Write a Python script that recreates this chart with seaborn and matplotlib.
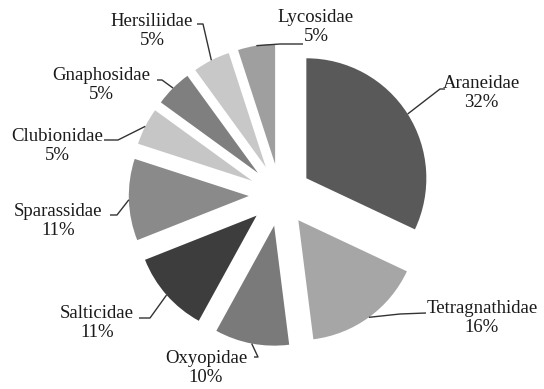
import matplotlib
matplotlib.use("Agg")
import matplotlib.pyplot as plt
import numpy as np
import seaborn as sns

families = ["Araneidae", "Tetragnathidae", "Oxyopidae", "Salticidae", "Sparassidae",
            "Clubionidae", "Gnaphosidae", "Hersiliidae", "Lycosidae"]
shares = [32, 16, 10, 11, 11, 5, 5, 5, 5]
greys = ["#595959", "#a6a6a6", "#7a7a7a", "#3d3d3d", "#8a8a8a",
         "#c6c6c6", "#7f7f7f", "#c8c8c8", "#9f9f9f"]

# label layout in pixel coords (text centre, leader elbow, leader end)
label_pos = {
    "Araneidae": ((481, 93), (440, 89), (445, 89)),
    "Tetragnathidae": ((482, 318), (400, 314), (426, 313)),
    "Oxyopidae": ((206, 368), (258, 357), (254, 357)),
    "Salticidae": ((97, 323), (150, 318), (139, 318)),
    "Sparassidae": ((58, 221), (117, 215), (110, 215)),
    "Clubionidae": ((57, 146), (118, 140), (104, 140)),
    "Gnaphosidae": ((101, 85), (162, 80), (157, 80)),
    "Hersiliidae": ((152, 31), (203, 24), (197, 24)),
    "Lycosidae": ((316, 27), (280, 44), (303, 44)),
}

W, H = 544, 389
CX, CY, R = 280, 195, 120


def to_data(px, py):
    return (px - CX) / R, (CY - py) / R


sns.set_theme(style="white")
plt.rcParams["font.family"] = ["Liberation Serif", "DejaVu Serif"]

fig = plt.figure(figsize=(W / 100, H / 100), dpi=100)
ax = fig.add_axes([0, 0, 1, 1])
wedges, _ = ax.pie(shares, colors=greys, startangle=90, counterclock=False,
                   explode=[0.26] * len(shares), radius=1,
                   wedgeprops=dict(linewidth=0))
ax.set_xlim(-CX / R, (W - CX) / R)
ax.set_ylim(-(H - CY) / R, CY / R)
ax.set_aspect("equal")
ax.axis("off")

for w, name, val in zip(wedges, families, shares):
    ang = np.deg2rad((w.theta1 + w.theta2) / 2)
    ax_x = w.center[0] + w.r * np.cos(ang)
    ax_y = w.center[1] + w.r * np.sin(ang)
    (tx, ty), elbow, end = label_pos[name]
    ex, ey = to_data(*elbow)
    nx, ny = to_data(*end)
    ax.plot([ax_x, ex, nx], [ax_y, ey, ny], color="#333333", lw=1.0,
            solid_capstyle="butt")
    x, y = to_data(tx, ty)
    ax.text(x, y, f"{name}\n{val}%", ha="center", va="center", fontsize=13.5,
            color="#1a1a1a", linespacing=1.1)

fig.savefig("out.png", dpi=100)
